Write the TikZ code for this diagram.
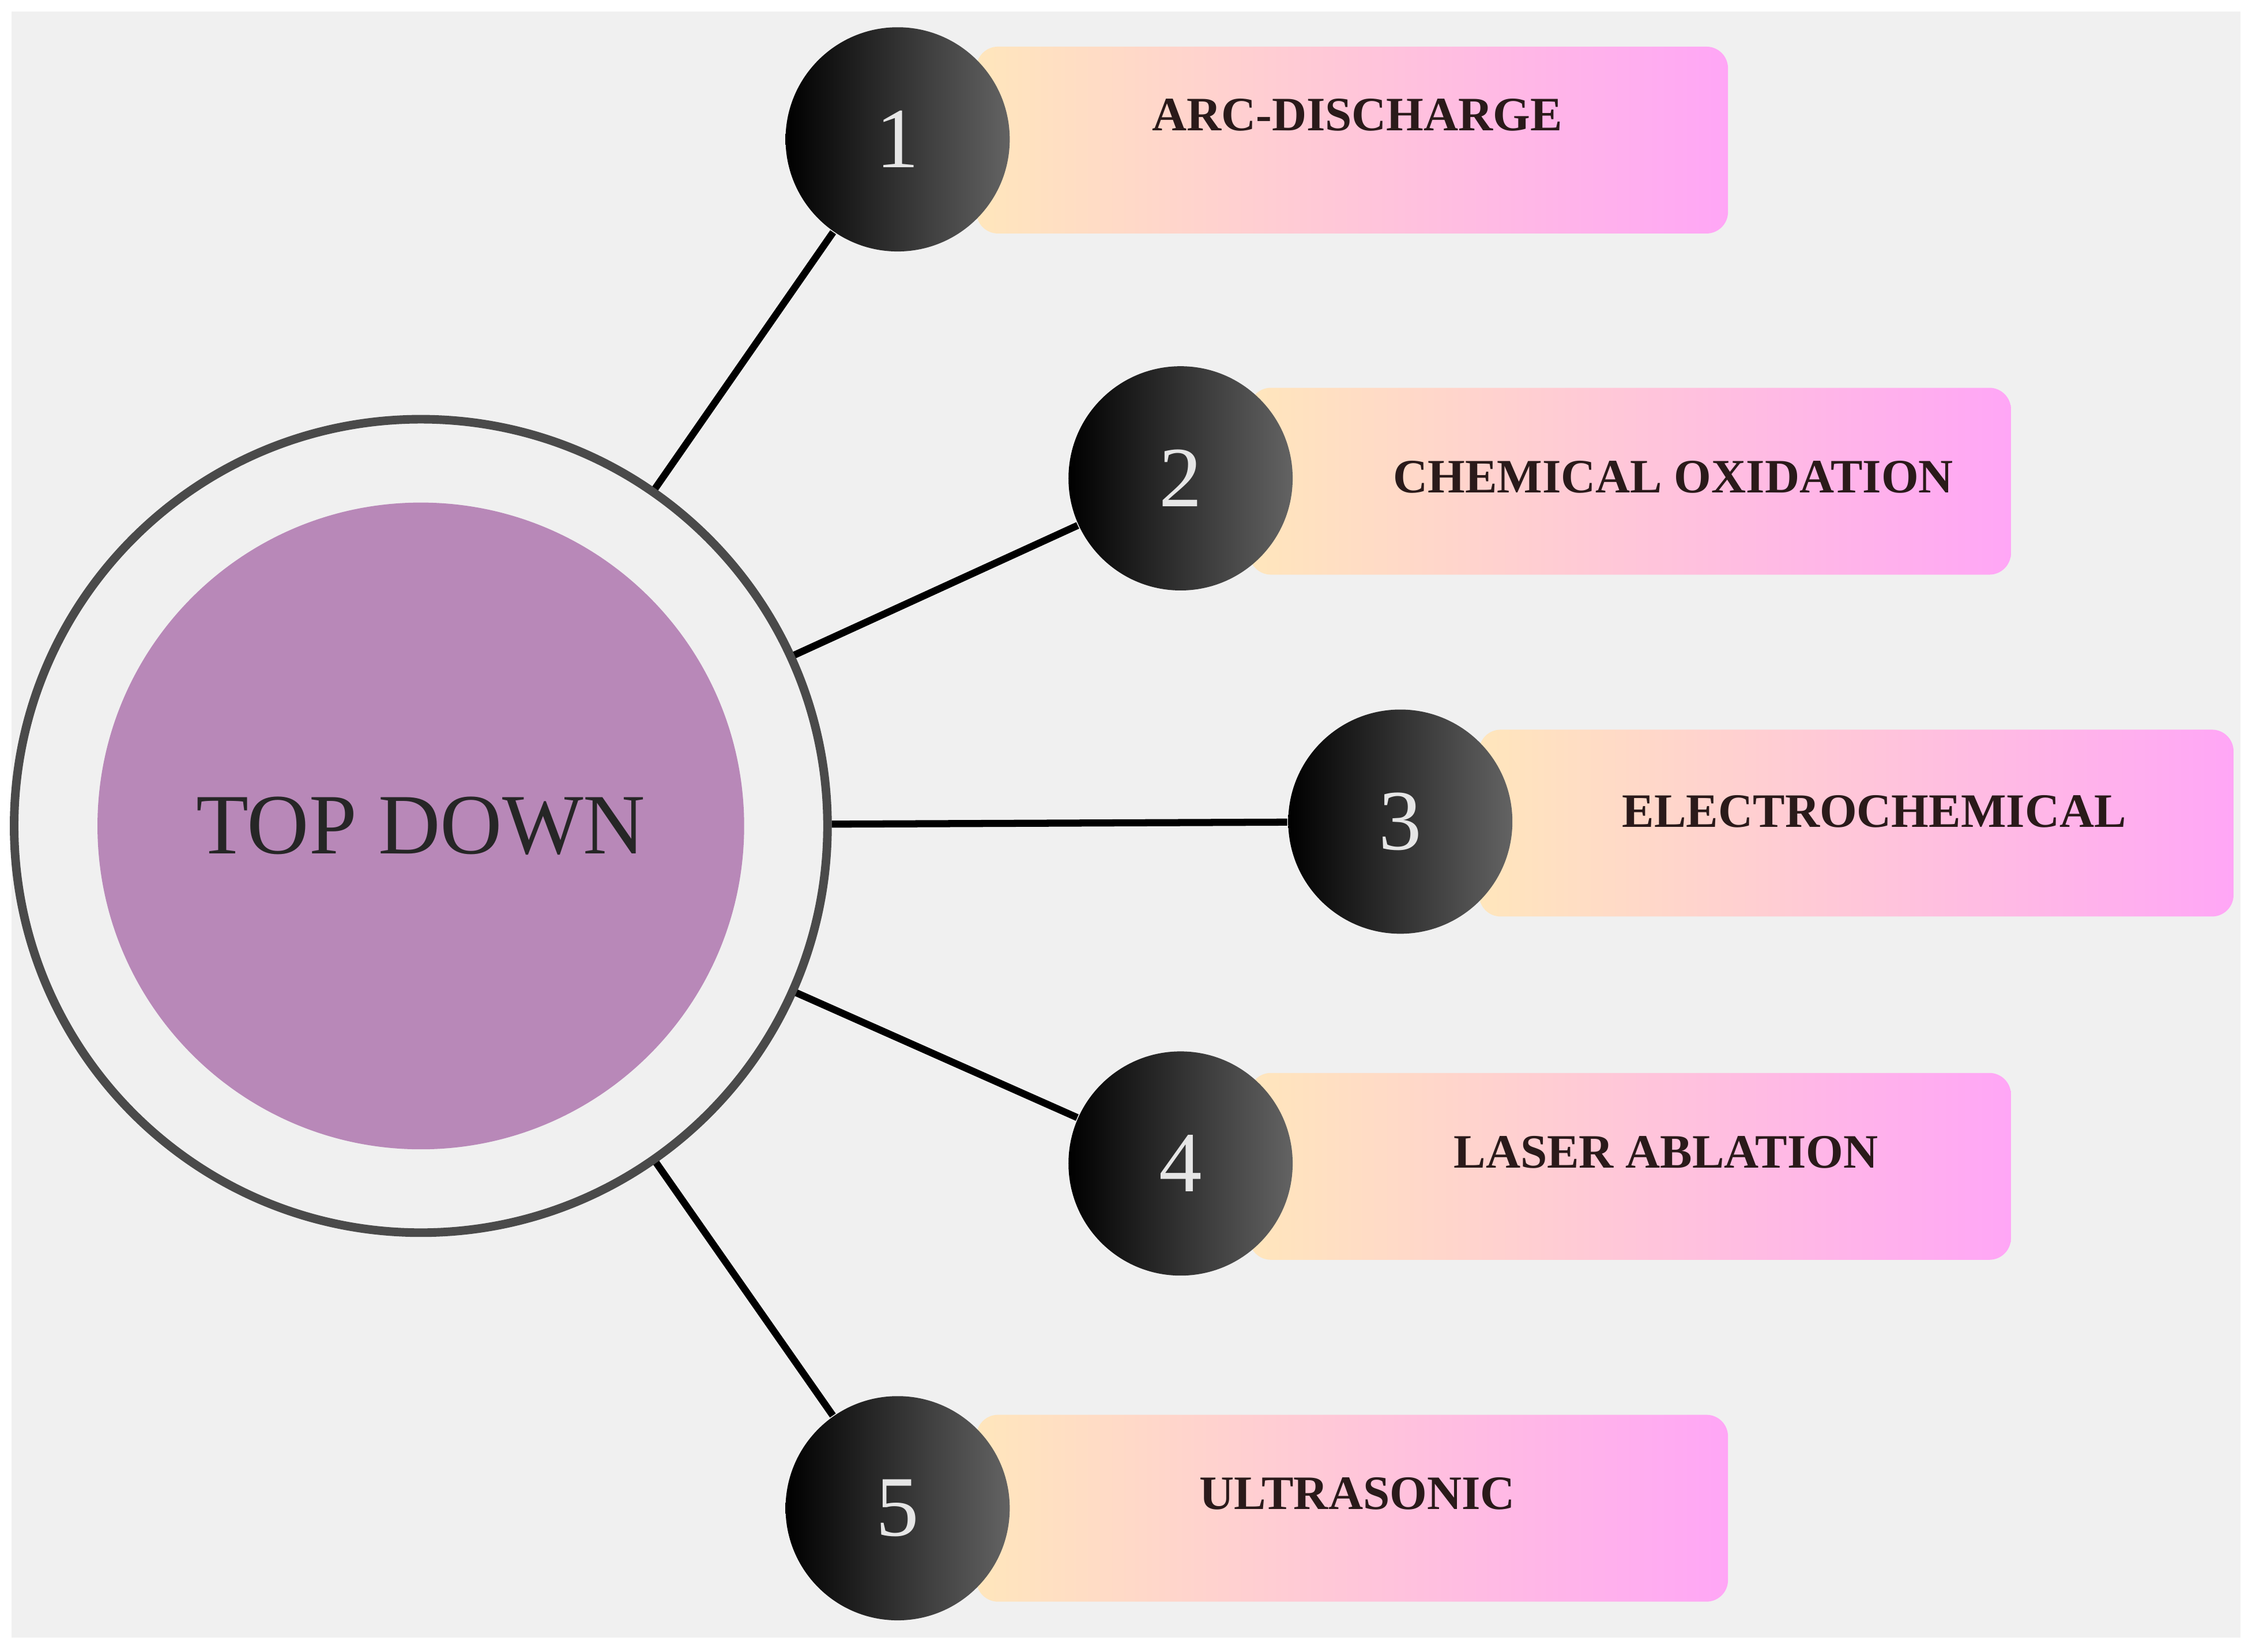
\documentclass[tikz,border=0pt]{standalone}
\usepackage{fontspec}
\setmainfont{Liberation Serif}
\begin{document}
\begin{tikzpicture}[x=0.01cm,y=-0.01cm,
  bar/.style={minimum height=1.3cm,rounded corners=0.15cm,left color=barA,right color=barB,inner sep=0pt},
  num/.style={circle,minimum size=1.56cm,left color=black,right color=numR,text=numT,font=\fontsize{17}{17}\selectfont,inner sep=0pt},
  lab/.style={font=\bfseries\fontsize{9.5}{10}\selectfont,text=labT},
  link/.style={line width=1.4pt,black}]
\definecolor{bg}{HTML}{F0F0F0}
\definecolor{barA}{HTML}{FFE6BC}
\definecolor{barB}{HTML}{FFA6F6}
\definecolor{numR}{HTML}{636363}
\definecolor{numT}{HTML}{E6E6E6}
\definecolor{labT}{HTML}{2A1A1A}
\definecolor{purp}{HTML}{B888B8}
\definecolor{ring}{HTML}{4A4A4A}
\useasboundingbox (0,0) rectangle (1568,1150);
\fill[white] (0,0) rectangle (1568,1150);
\fill[bg] (8,8) rectangle (1560,1140);
% bars
\node[bar,minimum width=5.23cm] (b1) at (941.5,97.5) {};
\node[bar,minimum width=5.30cm] (b2) at (1135,335) {};
\node[bar,minimum width=5.25cm] (b3) at (1292.5,573) {};
\node[bar,minimum width=5.30cm] (b4) at (1135,812) {};
\node[bar,minimum width=5.23cm] (b5) at (941.5,1050) {};
\node[lab] (t1) at (945,80) {ARC-DISCHARGE};
\node[lab] (t2) at (1165,332) {CHEMICAL OXIDATION};
\node[lab] (t3) at (1305,565) {ELECTROCHEMICAL};
\node[lab] (t4) at (1160,802) {LASER ABLATION};
\node[lab] (t5) at (945,1040) {ULTRASONIC};
% big circle
\node[circle,draw=ring,line width=1.7pt,fill=bg,minimum size=5.66cm] (big) at (293,575) {};
\node[circle,fill=purp,minimum size=4.5cm,font=\fontsize{17}{17}\selectfont,text=black!85] (core) at (293,575) {TOP DOWN};
% number circles
\node[num] (n1) at (625,97) {1};
\node[num] (n2) at (822,333) {2};
\node[num] (n3) at (975,572) {3};
\node[num] (n4) at (822,810) {4};
\node[num] (n5) at (625,1050) {5};
\begin{scope}[on background layer/.style={}]
\end{scope}
\draw[link] (big) -- (n1);
\draw[link] (big) -- (n2);
\draw[link] (big) -- (n3);
\draw[link] (big) -- (n4);
\draw[link] (big) -- (n5);
\end{tikzpicture}
\end{document}
